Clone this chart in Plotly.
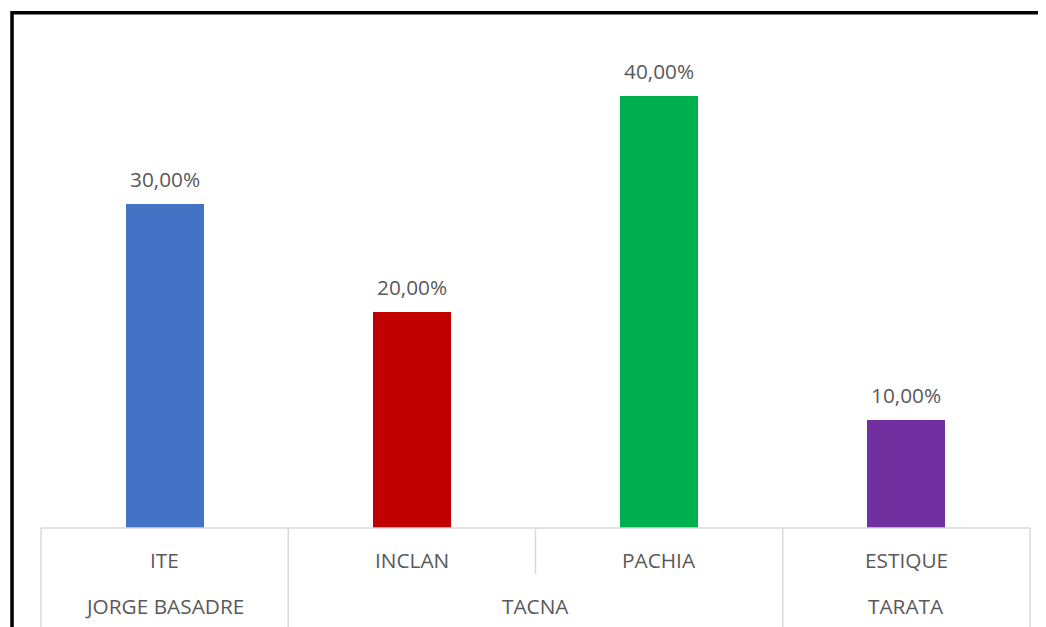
import plotly.graph_objects as go

categories = ["ITE", "INCLAN", "PACHIA", "ESTIQUE"]
groups = ["JORGE BASADRE", "TACNA", "TACNA", "TARATA"]
values = [0.30, 0.20, 0.40, 0.10]
colors = ["#4472C4", "#C00000", "#00B050", "#7030A0"]

FONT = "Open Sans"
TXT = "#595959"
GRID = "#D9D9D9"
FS = 20.8

fig = go.Figure()
fig.add_trace(go.Bar(
    x=categories, y=values, marker=dict(color=colors, line=dict(width=0)),
    width=0.316, hoverinfo="skip", showlegend=False,
))

def fmt(v):
    return f"{v*100:.2f}%".replace(".", ",")

ann = []
for c, v in zip(categories, values):
    ann.append(dict(x=c, y=v, xref="x", yref="y", text=fmt(v), showarrow=False,
                    yshift=25, xanchor="center", yanchor="middle",
                    font=dict(family=FONT, size=FS, color=TXT)))
# level-1 labels
for c in categories:
    ann.append(dict(x=c, y=-0.0623, xref="x", yref="paper", text=c, showarrow=False,
                    xanchor="center", yanchor="middle",
                    font=dict(family=FONT, size=FS, color=TXT)))
# level-2 labels
n = len(categories)
uniq = []
for i, g in enumerate(groups):
    if not uniq or uniq[-1][0] != g:
        uniq.append([g, i, i])
    else:
        uniq[-1][2] = i
for g, a, b in uniq:
    ann.append(dict(x=(a + b + 1) / 2 / n, y=-0.1518, xref="paper", yref="paper", text=g,
                    showarrow=False, xanchor="center", yanchor="middle",
                    font=dict(family=FONT, size=FS, color=TXT)))

shapes = []
# baseline
shapes.append(dict(type="line", xref="paper", yref="paper", x0=0, x1=1, y0=0, y1=0,
                   line=dict(color=GRID, width=1.5)))
# separators
bounds = {0, n}
for g, a, b in uniq:
    bounds.add(a)
    bounds.add(b + 1)
for i in range(n + 1):
    full = i in bounds
    shapes.append(dict(type="line", xref="paper", yref="paper", x0=i / n, x1=i / n,
                       y0=0, y1=(-0.3 if full else -0.0895),
                       line=dict(color=GRID, width=1.5)))
# outer black frame (partly cropped)
shapes.append(dict(type="rect", xref="paper", yref="paper", x0=-0.0293, x1=1.5,
                   y0=-0.6, y1=1.0025, line=dict(color="black", width=3.5),
                   fillcolor="rgba(0,0,0,0)"))

fig.update_layout(
    width=1038, height=619,
    margin=dict(l=33, r=16, t=6, b=99),
    paper_bgcolor="white", plot_bgcolor="white",
    xaxis=dict(range=[-0.5, 3.5], showticklabels=False, showgrid=False, zeroline=False,
               showline=False, ticks="", fixedrange=True),
    yaxis=dict(range=[0, 0.476], visible=False, showgrid=False, zeroline=False, fixedrange=True),
    annotations=ann, shapes=shapes, bargap=0,
)

fig.write_html("out.html", config={"displayModeBar": False})
